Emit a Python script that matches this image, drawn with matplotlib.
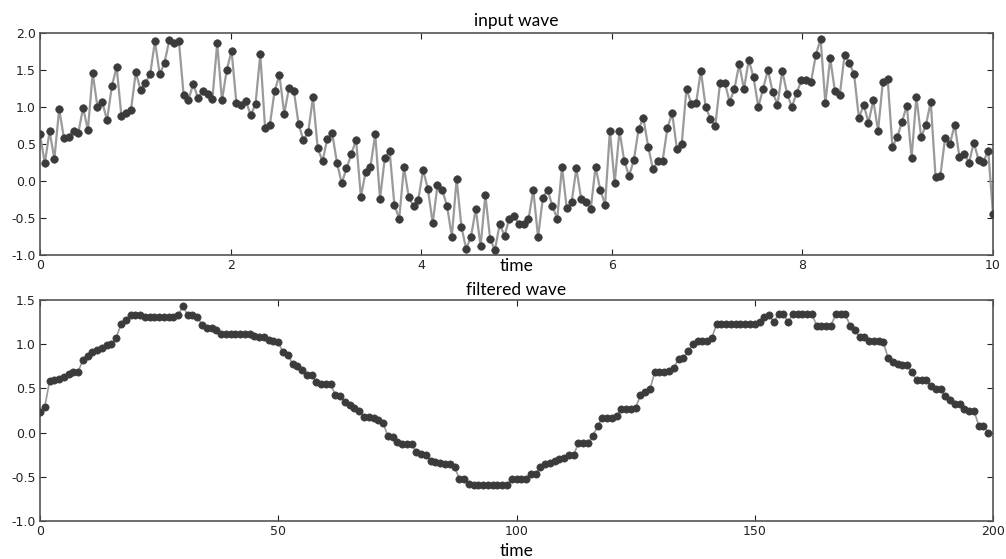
import numpy as np
import matplotlib
matplotlib.use("Agg")
import matplotlib.pyplot as plt

# ---- data ----
input_values = [
    0.63, 0.24, 0.67, 0.30, 0.97, 0.58, 0.60, 0.68, 0.65, 0.99,
    0.69, 1.46, 1.00, 1.07, 0.82, 1.28, 1.54, 0.88, 0.92, 0.96,
    1.47, 1.23, 1.33, 1.44, 1.89, 1.44, 1.60, 1.90, 1.86, 1.89,
    1.16, 1.10, 1.31, 1.12, 1.22, 1.18, 1.11, 1.86, 1.09, 1.50,
    1.76, 1.06, 1.03, 1.08, 0.89, 1.04, 1.71,
    0.72, 0.76, 1.22, 1.43, 0.91, 1.26, 1.22, 0.77, 0.55, 0.66,
    1.13, 0.44, 0.27, 0.57, 0.65, 0.25, -0.03, 0.17, 0.36, 0.56,
    -0.21, 0.12, 0.19, 0.63, -0.24, 0.31, 0.41, -0.32, -0.51, 0.19,
    -0.22, -0.34, -0.25, 0.15, -0.11, -0.57, -0.06, -0.12, -0.34, -0.75,
    0.03, -0.62, -0.92, -0.75, -0.38, -0.88, -0.19, -0.79, -0.93, -0.58,
    -0.74, -0.51,
    -0.47, -0.58, -0.58, -0.52, -0.12, -0.76, -0.23, -0.12, -0.34, -0.51,
    0.19, -0.37, -0.29, 0.17, -0.24, -0.28, -0.38, 0.19, -0.12, -0.32,
    0.68, -0.03, 0.68, 0.27, 0.07, 0.28, 0.70, 0.85, 0.46, 0.16,
    0.27, 0.27, 0.71, 0.92, 0.43, 0.50, 1.25, 1.04, 1.05, 1.49,
    1.00, 0.84, 0.74, 1.32, 1.33, 1.07, 1.24, 1.58, 1.24, 1.64,
    1.40, 1.00,
    1.25, 1.50, 1.20, 1.03, 1.49, 1.18, 1.00, 1.19, 1.36, 1.37,
    1.34, 1.70, 1.92, 1.05, 1.66, 1.21, 1.16, 1.70, 1.60, 1.44,
    0.85, 1.03, 0.79, 1.09, 0.68, 1.34, 1.38, 0.46, 0.59, 0.80,
    1.02, 0.31, 1.14, 0.59, 0.76, 1.07, 0.06, 0.07, 0.58, 0.50,
    0.76, 0.32, 0.37, 0.25, 0.52, 0.28, 0.26, 0.41, -0.45,
]

filtered_values = [
    0.23, 0.29, 0.58, 0.59, 0.61, 0.63, 0.66, 0.68, 0.69, 0.82,
    0.87, 0.91, 0.94, 0.96, 0.99, 1.00, 1.07, 1.23, 1.27, 1.33,
    1.33, 1.33, 1.31, 1.31, 1.31, 1.31, 1.31, 1.31, 1.31, 1.33,
    1.43, 1.33, 1.33, 1.31, 1.22, 1.18, 1.18, 1.16, 1.11, 1.11,
    1.11, 1.11, 1.11, 1.11, 1.11, 1.09, 1.08,
    1.08, 1.05, 1.04, 1.02, 0.91, 0.88, 0.78, 0.75, 0.71, 0.65,
    0.65, 0.57, 0.55, 0.55, 0.55, 0.42, 0.41, 0.35, 0.31, 0.28,
    0.24, 0.18, 0.18, 0.17, 0.14, 0.11, -0.04, -0.05, -0.11, -0.13,
    -0.13, -0.13, -0.22, -0.24, -0.25, -0.32, -0.33, -0.34, -0.35, -0.35,
    -0.39, -0.52, -0.52, -0.58, -0.59, -0.59, -0.59, -0.59, -0.59, -0.59,
    -0.59, -0.59,
    -0.53, -0.52, -0.52, -0.52, -0.47, -0.47, -0.39, -0.36, -0.34, -0.32,
    -0.30, -0.29, -0.25, -0.25, -0.12, -0.12, -0.12, -0.04, 0.07, 0.17,
    0.17, 0.16, 0.19, 0.27, 0.27, 0.27, 0.28, 0.42, 0.46, 0.49,
    0.68, 0.68, 0.69, 0.70, 0.73, 0.83, 0.84, 0.92, 1.00, 1.04,
    1.04, 1.04, 1.07, 1.23, 1.23, 1.23, 1.23, 1.23, 1.23, 1.23,
    1.23, 1.23, 1.25, 1.31, 1.33, 1.25, 1.34, 1.34, 1.25, 1.34,
    1.34, 1.34, 1.34, 1.34, 1.21, 1.21, 1.21, 1.21, 1.34, 1.34,
    1.34, 1.21, 1.16, 1.08, 1.08, 1.04, 1.04, 1.04, 1.02, 0.84,
    0.80, 0.78, 0.76, 0.76, 0.68, 0.59, 0.59, 0.59, 0.53, 0.49,
    0.49, 0.41, 0.37, 0.32, 0.32, 0.27, 0.25, 0.25, 0.08, 0.08,
    0.00,
]

time_input = np.linspace(0, 10, len(input_values))
sample_index = np.arange(len(filtered_values))

top_title = "input wave"
bottom_title = "filtered wave"
x_label = "time"

# ---- styling ----
line_color = "#9a9a9a"
dot_color = "#3b3b3b"
label_font = ["Lato", "DejaVu Sans"]

fig = plt.figure(figsize=(10.06, 5.59), dpi=100)
ax1 = fig.add_axes([40 / 1006, 1 - 255 / 559, 953 / 1006, 222 / 559])
ax2 = fig.add_axes([40 / 1006, 1 - 521 / 559, 953 / 1006, 221 / 559])

for ax, xs, ys, lw, ms in ((ax1, time_input, input_values, 1.6, 5.4),
                           (ax2, sample_index, filtered_values, 1.2, 5.2)):
    ax.plot(xs, ys, "-", color=line_color, lw=lw, zorder=2)
    ax.plot(xs, ys, "o", color=dot_color, mec=dot_color, ms=ms,
            mew=0.5, zorder=3)
    ax.tick_params(direction="in", top=True, right=True, length=4,
                   width=0.8, labelsize=9, pad=3, colors="#222222")
    for s in ax.spines.values():
        s.set_color("#555555")
        s.set_linewidth(1.2)

ax1.set_xlim(0, 10)
ax1.set_ylim(-1.0, 2.0)
ax1.set_xticks([0, 2, 4, 6, 8, 10])
ax1.set_yticks([-1.0, -0.5, 0.0, 0.5, 1.0, 1.5, 2.0])
ax1.set_title(top_title, family=label_font, fontsize=12.5, pad=5)
ax1.set_xlabel(x_label, family=label_font, fontsize=12.5)
ax1.xaxis.set_label_coords(0.5, -0.015)

ax2.set_xlim(0, 200)
ax2.set_ylim(-1.0, 1.5)
ax2.set_xticks([0, 50, 100, 150, 200])
ax2.set_yticks([-1.0, -0.5, 0.0, 0.5, 1.0, 1.5])
ax2.set_title(bottom_title, family=label_font, fontsize=12.5, pad=3.4)
ax2.set_xlabel(x_label, family=label_font, fontsize=12.5)
ax2.xaxis.set_label_coords(0.5, -0.1)

for ax in (ax1, ax2):
    ax.yaxis.set_major_formatter(matplotlib.ticker.FormatStrFormatter("%.1f"))

fig.savefig("out.png", dpi=100, facecolor="white")
